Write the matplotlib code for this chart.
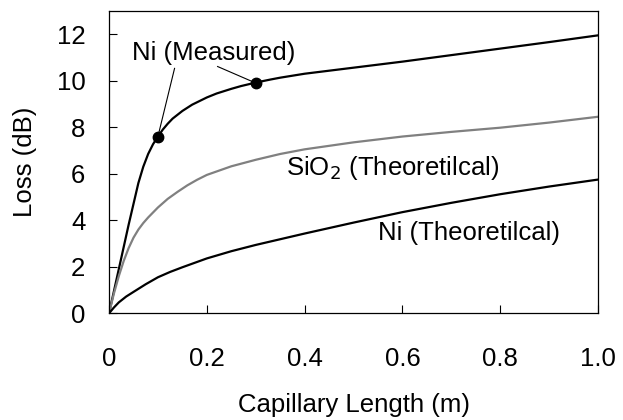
import matplotlib
matplotlib.use("Agg")
import matplotlib.pyplot as plt

plt.rcParams['font.family'] = ['Liberation Sans', 'DejaVu Sans']

# Ni (Measured)
x_meas = [0, 0.02, 0.04, 0.06, 0.07, 0.08, 0.09, 0.1, 0.11, 0.12, 0.13, 0.15, 0.17,
          0.2, 0.22, 0.25, 0.27, 0.3, 0.33, 0.35, 0.4, 0.45, 0.5, 0.6, 0.7, 0.8, 0.9, 1.0]
y_meas = [0, 1.9, 3.8, 5.6, 6.3, 6.85, 7.27, 7.6, 7.9, 8.15, 8.37, 8.7, 8.97,
          9.28, 9.45, 9.65, 9.77, 9.92, 10.05, 10.13, 10.3, 10.43, 10.56, 10.82, 11.1,
          11.38, 11.66, 11.95]

# SiO2 (Theoretical)
x_sio2 = [0, 0.01, 0.02, 0.03, 0.04, 0.05, 0.06, 0.07, 0.08, 0.1, 0.12, 0.14, 0.16,
          0.18, 0.2, 0.25, 0.3, 0.35, 0.4, 0.5, 0.6, 0.7, 0.8, 0.9, 1.0]
y_sio2 = [0, 0.85, 1.6, 2.25, 2.8, 3.25, 3.6, 3.88, 4.12, 4.55, 4.92, 5.22, 5.5,
          5.74, 5.95, 6.32, 6.6, 6.85, 7.05, 7.35, 7.6, 7.8, 7.98, 8.2, 8.45]

# Ni (Theoretical)
x_ni = [0, 0.01, 0.02, 0.035, 0.05, 0.075, 0.1, 0.125, 0.15, 0.2, 0.25, 0.3, 0.4,
        0.5, 0.6, 0.7, 0.8, 0.9, 1.0]
y_ni = [0, 0.25, 0.47, 0.72, 0.92, 1.25, 1.55, 1.78, 1.98, 2.36, 2.67, 2.94, 3.43,
        3.9, 4.35, 4.75, 5.12, 5.45, 5.75]

# measured points
x_pts = [0.1, 0.3]
y_pts = [7.6, 9.9]

fig = plt.figure(figsize=(6.23, 4.2), dpi=100)
ax = fig.add_axes([0.175, 0.254, 0.785, 0.72])

ax.plot(x_meas, y_meas, color='black', lw=1.6)
ax.plot(x_sio2, y_sio2, color='#808080', lw=1.6)
ax.plot(x_ni, y_ni, color='black', lw=1.6)
ax.plot(x_pts, y_pts, 'o', color='black', ms=7.5)

fs = 18.5
ax.text(0.047, 11.17, 'Ni (Measured)', fontsize=fs, va='center', ha='left')
ax.plot([0.134, x_pts[0]], [10.53, y_pts[0]], color='black', lw=0.8)
ax.plot([0.222, x_pts[1]], [10.61, y_pts[1]], color='black', lw=0.8)
ax.text(0.362, 6.24, 'SiO$_2$ (Theoretilcal)', fontsize=fs, va='center', ha='left')
ax.text(0.551, 3.45, 'Ni (Theoretilcal)', fontsize=fs, va='center', ha='left')

ax.set_xlim(0, 1.0)
ax.set_ylim(0, 13)
ax.set_xticks([0, 0.2, 0.4, 0.6, 0.8, 1.0])
ax.set_xticklabels(['0', '0.2', '0.4', '0.6', '0.8', '1.0'])
ax.set_yticks([0, 2, 4, 6, 8, 10, 12])
ax.tick_params(direction='in', length=6, width=0.8, labelsize=fs)
ax.tick_params(axis='x', pad=24)
ax.tick_params(axis='y', pad=17)
for s in ax.spines.values():
    s.set_linewidth(0.9)

ax.set_xlabel('Capillary Length (m)', fontsize=fs, labelpad=16)
ax.set_ylabel('Loss (dB)', fontsize=fs, labelpad=14)

fig.savefig('out.png', dpi=100)
